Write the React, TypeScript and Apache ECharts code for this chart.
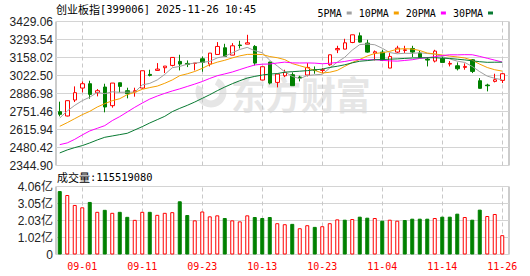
import React, { useEffect, useRef } from 'react';
import * as echarts from 'echarts';

const dates = ['08-27','08-28','08-29','09-01','09-02','09-03','09-04','09-05','09-08','09-09','09-10','09-11','09-12','09-15','09-16','09-17','09-18','09-19','09-22','09-23','09-24','09-25','09-26','09-29','09-30','10-09','10-10','10-13','10-14','10-15','10-16','10-17','10-20','10-21','10-22','10-23','10-24','10-27','10-28','10-29','10-30','10-31','11-03','11-04','11-05','11-06','11-07','11-10','11-11','11-12','11-13','11-14','11-17','11-18','11-19','11-20','11-21','11-24','11-25','11-26'];

const opens = [2750.2,2717.6,2837.9,2928.0,2960.6,2893.0,2935.6,2795.3,2968.0,2908.0,2899.0,2928.0,3030.8,3060.8,3080.9,3098.4,3128.5,3113.4,3113.4,3148.5,3108.4,3181.0,3231.2,3176.0,3252.0,3258.7,3241.2,2988.2,3123.5,2970.6,3020.7,3028.3,3010.7,3025.8,3065.8,3060.8,3103.4,3216.0,3221.1,3271.2,3321.3,3266.2,3191.1,3198.6,3078.4,3198.6,3211.1,3226.0,3191.1,3146.0,3131.0,3151.0,3108.4,3095.9,3083.4,3141.0,2983.2,2950.6,2978.2,2985.7];
const closes = [2730.2,2832.9,2893.0,2960.6,2880.5,2908.0,2785.3,2965.6,2940.6,2885.5,2908.0,3058.3,3023.3,3070.8,3093.4,3158.5,3108.4,3106.0,3115.9,3120.9,3191.1,3241.2,3166.0,3246.2,3248.0,3268.7,3116.0,3088.4,2965.6,3033.3,3045.8,2945.6,3003.2,3083.4,3060.8,3065.8,3178.6,3226.0,3268.7,3328.9,3273.8,3198.6,3201.1,3136.0,3166.0,3228.7,3216.0,3198.6,3158.5,3138.5,3206.1,3121.0,3113.4,3073.4,3090.9,3053.3,2925.6,2945.6,2990.7,3035.8];
const lows = [2715.1,2715.0,2822.8,2895.5,2848.0,2865.4,2745.2,2780.3,2895.5,2850.4,2863.0,2923.0,3015.7,3060.0,3040.8,3090.9,3060.8,3085.9,3060.8,3050.8,3090.9,3180.5,3165.5,3175.5,3226.0,3258.0,3098.4,2987.5,2955.6,2933.0,3010.7,2945.0,2978.2,3015.7,3035.8,3040.8,3095.9,3191.1,3220.5,3266.0,3271.0,3193.6,3136.0,3131.0,3078.0,3191.1,3191.0,3161.0,3153.5,3090.9,3121.0,3120.5,3090.9,3060.8,3065.8,3040.8,2925.0,2903.0,2970.6,2965.6];
const highs = [2825.4,2834.0,2940.6,2978.0,2983.0,2920.5,2960.6,2966.0,2968.5,2930.6,2930.6,3059.0,3065.8,3115.9,3094.0,3159.0,3178.6,3136.0,3116.5,3166.0,3191.5,3273.8,3261.2,3266.2,3283.8,3328.9,3251.2,3089.0,3126.0,3034.0,3065.8,3045.8,3020.7,3115.9,3090.9,3078.4,3179.0,3246.2,3298.8,3329.5,3346.4,3291.3,3211.1,3216.0,3191.0,3246.2,3246.2,3246.2,3208.6,3161.0,3216.0,3166.0,3131.0,3121.0,3113.4,3146.0,3003.2,2960.6,3035.8,3040.8];

const volumes = [379000000,355500000,296000000,282000000,314000000,255000000,267000000,249000000,255000000,225000000,207000000,255000000,255000000,237000000,249000000,253000000,318000000,236000000,204000000,257000000,228000000,234000000,218000000,204000000,198000000,234000000,224000000,218000000,224000000,187000000,181000000,183000000,157000000,175000000,165000000,169000000,187000000,210000000,208000000,212000000,226000000,220000000,218000000,202000000,208000000,202000000,206000000,214000000,214000000,214000000,218000000,226000000,226000000,244000000,224000000,208000000,268000000,230000000,242000000,115519080];
// 1 = up day (red hollow bar), -1 = down day (green bar)
const volDir = [-1,1,1,1,-1,1,-1,1,-1,-1,1,1,-1,1,1,1,-1,-1,1,1,1,1,-1,1,1,1,-1,-1,-1,1,1,-1,1,1,-1,1,1,1,-1,1,-1,-1,1,-1,1,1,-1,-1,-1,-1,1,-1,-1,-1,1,-1,-1,1,1,1];

const ma5Lead = [2702.6,2755.2,2797.8,2832.9];
const ma10Lead = [2640.0,2667.5,2697.6,2727.6,2752.7,2785.3,2810.3,2832.9,2848.0];
const ma20Lead = [2502,2515,2542,2575,2605,2625,2645,2683,2713,2748,2783,2815,2845,2868,2888,2906,2922,2940,2958];
const ma30Lead = [2439.6,2462.1,2479.6,2494.6,2514.7,2537.3,2557.3,2567.3,2577.4,2587.4,2612.4,2637.5,2665.0,2690.0,2715.1,2750.2,2775.3,2797.8,2822.8,2850.4,2877.9,2908.0,2935.6,2960.6,2983.2,3003.2,3015.7,3025.8,3033.3];

const priceTicks = ['2344.90','2480.42','2615.94','2751.46','2886.98','3022.50','3158.02','3293.54','3429.06'];
const volTicks = ['0','1.02亿','2.03亿','3.05亿','4.06亿'];
const xTickLabels = ['09-01','09-11','09-23','10-13','10-23','11-04','11-14','11-26'];

const priceMin = 2344.9;
const priceMax = 3429.06;
const volMax = 406300000;

const maNames = ['5PMA','10PMA','20PMA','30PMA'];
const maColors = ['#a0a0a0','#f5a000','#ff00ff','#087a32'];

function movingAvg(n: number, lead: number[]) {
  return closes.map((_, i) => {
    if (i < lead.length) return lead[i];
    let s = 0;
    for (let k = i - n + 1; k <= i; k++) s += closes[k];
    return +(s / n).toFixed(2);
  });
}

const RED = '#ff0000';
const GREEN = '#008000';

export default function App() {
  const ref = useRef<HTMLDivElement>(null);
  useEffect(() => {
    const chart = echarts.init(ref.current!, null, { renderer: 'svg' });
    const mas = [movingAvg(5, ma5Lead), movingAvg(10, ma10Lead), movingAvg(20, ma20Lead), movingAvg(30, ma30Lead)];
    const dashed = {
      silent: true,
      symbol: ['none', 'none'],
      label: { show: false },
      emphasis: { disabled: true },
      lineStyle: { color: '#c8c8c8', type: [4, 3], width: 1 },
      z: 1,
      data: xTickLabels.map((d) => ({ xAxis: d })),
    };
    const option: any = {
      animation: false,
      backgroundColor: '#fff',
      textStyle: { fontFamily: 'Liberation Sans' },
      legend: {
        data: maNames,
        right: 32,
        top: 3,
        align: 'right',
        icon: 'rect',
        itemWidth: 5,
        itemHeight: 3,
        itemGap: 7,
        selectedMode: false,
        textStyle: { fontFamily: 'DejaVu Sans Mono', fontSize: 10, color: '#000' },
      },
      grid: [
        { left: 56, top: 21.5, width: 453, height: 144, show: true, borderColor: '#999', borderWidth: 1, backgroundColor: 'transparent' },
        { left: 56, top: 21.5, width: 450, height: 144 },
        { left: 56, top: 186.5, width: 453, height: 68, show: true, borderColor: '#999', borderWidth: 1, backgroundColor: 'transparent' },
        { left: 56, top: 186.5, width: 450, height: 68 },
      ],
      xAxis: [
        { type: 'value', gridIndex: 0, min: 0, max: 1, show: false },
        { type: 'category', gridIndex: 1, data: dates, show: false, boundaryGap: true },
        { type: 'value', gridIndex: 2, min: 0, max: 1, show: false },
        {
          type: 'category', gridIndex: 3, data: dates, boundaryGap: true,
          axisLine: { show: false }, axisTick: { show: false }, splitLine: { show: false },
          axisLabel: {
            interval: (_i: number, v: string) => xTickLabels.includes(v),
            color: RED, fontFamily: 'DejaVu Sans Mono', fontSize: 10, margin: 7,
          },
        },
      ],
      yAxis: [
        {
          type: 'value', gridIndex: 0, min: 0, max: 8, interval: 1,
          axisLine: { show: false }, axisTick: { show: false },
          splitLine: { lineStyle: { color: '#d4d4d4', width: 1 } },
          axisLabel: { formatter: (v: number) => priceTicks[Math.round(v)], color: '#222', fontFamily: 'Liberation Sans', fontSize: 12, margin: 3 },
        },
        { type: 'value', gridIndex: 1, min: priceMin, max: priceMax, show: false, splitLine: { show: false } },
        {
          type: 'value', gridIndex: 2, min: 0, max: 4, interval: 1,
          axisLine: { show: false }, axisTick: { show: false },
          splitLine: { lineStyle: { color: '#d4d4d4', width: 1 } },
          axisLabel: { formatter: (v: number) => volTicks[Math.round(v)], color: '#222', fontFamily: 'Liberation Sans, Noto Sans CJK SC', fontSize: 12, margin: 3 },
        },
        { type: 'value', gridIndex: 3, min: 0, max: volMax, show: false, splitLine: { show: false } },
      ],
      graphic: [
        {
          type: 'arc', z: 0, silent: true,
          shape: { cx: 211, cy: 92, r: 12, startAngle: -Math.PI * 0.35, endAngle: Math.PI * 1.15 },
          style: { stroke: '#e6e6e6', lineWidth: 7, fill: 'none' },
        },
        {
          type: 'text', z: 0, silent: true, x: 231, y: 93, scaleX: 0.92,
          style: { text: '东方财富', fontFamily: 'Noto Sans CJK SC', fontWeight: 'bold', fontSize: 38, fill: '#e6e6e6', verticalAlign: 'middle' },
        },
        {
          type: 'text', x: 56, y: 9,
          style: {
            text: '{a|创业板指}{b|[399006] 2025-11-26 10:45}',
            verticalAlign: 'middle', fill: '#000',
            rich: {
              a: { fontFamily: 'Noto Sans CJK SC', fontSize: 11, fill: '#000' },
              b: { fontFamily: 'DejaVu Sans Mono', fontSize: 10.4, fill: '#000' },
            },
          },
        },
        {
          type: 'text', x: 57, y: 177,
          style: {
            text: '{a|成交量}{b|:' + volumes[volumes.length - 1] + '}',
            verticalAlign: 'middle', fill: '#000',
            rich: {
              a: { fontFamily: 'Noto Sans CJK SC', fontSize: 11, fill: '#000' },
              b: { fontFamily: 'DejaVu Sans Mono', fontSize: 10.4, fill: '#000' },
            },
          },
        },
      ],
      series: [
        {
          type: 'candlestick', name: 'K', xAxisIndex: 1, yAxisIndex: 1, z: 3,
          barWidth: 4,
          data: dates.map((_, i) => [opens[i], closes[i], lows[i], highs[i]]),
          itemStyle: { color: '#fff', color0: GREEN, borderColor: RED, borderColor0: GREEN, borderWidth: 1 },
          markLine: dashed,
        },
        ...maNames.map((n, k) => ({
          type: 'line', name: n, xAxisIndex: 1, yAxisIndex: 1, z: 4,
          data: mas[k], showSymbol: false, symbol: 'none', smooth: false,
          color: maColors[k],
          lineStyle: { color: maColors[k], width: 1 },
          emphasis: { disabled: true },
        })),
        {
          type: 'bar', name: 'VOL', xAxisIndex: 3, yAxisIndex: 3, z: 3,
          barWidth: 4,
          data: volumes.map((v, i) => ({
            value: v,
            itemStyle: volDir[i] > 0
              ? { color: '#fff', borderColor: RED, borderWidth: 1 }
              : { color: GREEN, borderColor: GREEN, borderWidth: 1 },
          })),
          markLine: dashed,
        },
      ],
    };
    chart.setOption(option);
    return () => chart.dispose();
  }, []);
  return <div ref={ref} style={{ position: 'absolute', left: 0, top: 0, width: 530, height: 276 }} />;
}
